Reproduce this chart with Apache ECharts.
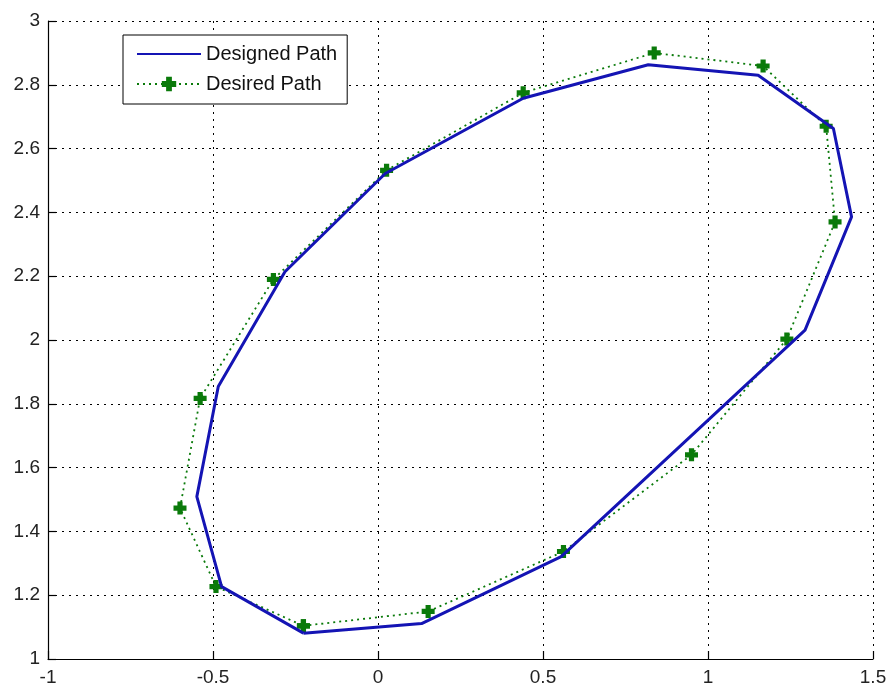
<!DOCTYPE html>
<html>
<head>
<meta charset="utf-8">
<script src="https://cdn.jsdelivr.net/npm/echarts@6/dist/echarts.min.js"></script>
<style>
  html, body { margin: 0; padding: 0; background: #fff; }
  #main { width: 890px; height: 687px; }
</style>
</head>
<body>
<div id="main"></div>
<script>
// designed path vertices (closed loop)
const designedX = [-0.226, 0.132, 0.555, 1.294, 1.435, 1.380, 1.152, 0.819, 0.440, 0.022, -0.282, -0.484, -0.549, -0.474, -0.226];
const designedY = [1.081, 1.111, 1.321, 2.031, 2.386, 2.663, 2.830, 2.863, 2.758, 2.522, 2.214, 1.854, 1.509, 1.227, 1.081];
// desired path points (closed loop)
const desiredX = [-0.226, 0.152, 0.562, 0.950, 1.239, 1.385, 1.358, 1.167, 0.837, 0.440, 0.026, -0.317, -0.539, -0.600, -0.491, -0.226];
const desiredY = [1.104, 1.149, 1.337, 1.640, 2.003, 2.370, 2.670, 2.859, 2.900, 2.775, 2.532, 2.190, 1.817, 1.473, 1.227, 1.104];
const seriesNames = ['Designed Path', 'Desired Path'];

const chart = echarts.init(document.getElementById('main'));

const pair = (xs, ys) => xs.map((x, i) => [x, ys[i]]);
const plusMark = 'path://M3,0 H7 V3 H10 V7 H7 V10 H3 V7 H0 V3 H3 Z';

const axisCommon = {
  type: 'value',
  axisLine: { show: true, onZero: false, lineStyle: { color: '#000', width: 1.2 } },
  axisTick: { show: true, inside: true, length: 8, lineStyle: { color: '#000', width: 1.2 } },
  axisLabel: { color: '#222', fontSize: 19, fontFamily: 'Liberation Sans, Arial, sans-serif' },
  splitLine: { show: true, lineStyle: { color: '#000', width: 1, type: [2, 5] } }
};

chart.setOption({
  animation: false,
  backgroundColor: '#fff',
  grid: { left: 48, right: 17, top: 21, bottom: 28 },
  xAxis: Object.assign({}, axisCommon, {
    min: -1, max: 1.5, interval: 0.5,
    axisLabel: Object.assign({}, axisCommon.axisLabel, { margin: 9 })
  }),
  yAxis: Object.assign({}, axisCommon, {
    min: 1, max: 3, interval: 0.2,
    axisLabel: Object.assign({}, axisCommon.axisLabel, { margin: 8 })
  }),
  legend: {
    orient: 'vertical',
    left: 123, top: 35,
    padding: [9, 10, 10, 13],
    itemGap: 10,
    itemWidth: 64,
    itemHeight: 18,
    backgroundColor: '#fff',
    borderColor: '#000',
    borderWidth: 1,
    borderRadius: 0,
    textStyle: { color: '#111', fontSize: 20, fontFamily: 'Liberation Sans, Arial, sans-serif' },
    data: [
      { name: seriesNames[0], itemStyle: { opacity: 0 } },
      { name: seriesNames[1] }
    ]
  },
  series: [
    {
      name: seriesNames[0],
      type: 'line',
      data: pair(designedX, designedY),
      symbol: 'none',
      z: 3,
      lineStyle: { color: '#1414b4', width: 3 },
      itemStyle: { color: '#1414b4' }
    },
    {
      name: seriesNames[1],
      type: 'line',
      data: pair(desiredX, desiredY),
      symbol: plusMark,
      symbolSize: 13,
      showAllSymbol: true,
      z: 2,
      lineStyle: { color: '#0a7a0a', width: 1.8, type: [2, 4] },
      itemStyle: { color: '#0a7a0a' }
    }
  ]
});
</script>
</body>
</html>
